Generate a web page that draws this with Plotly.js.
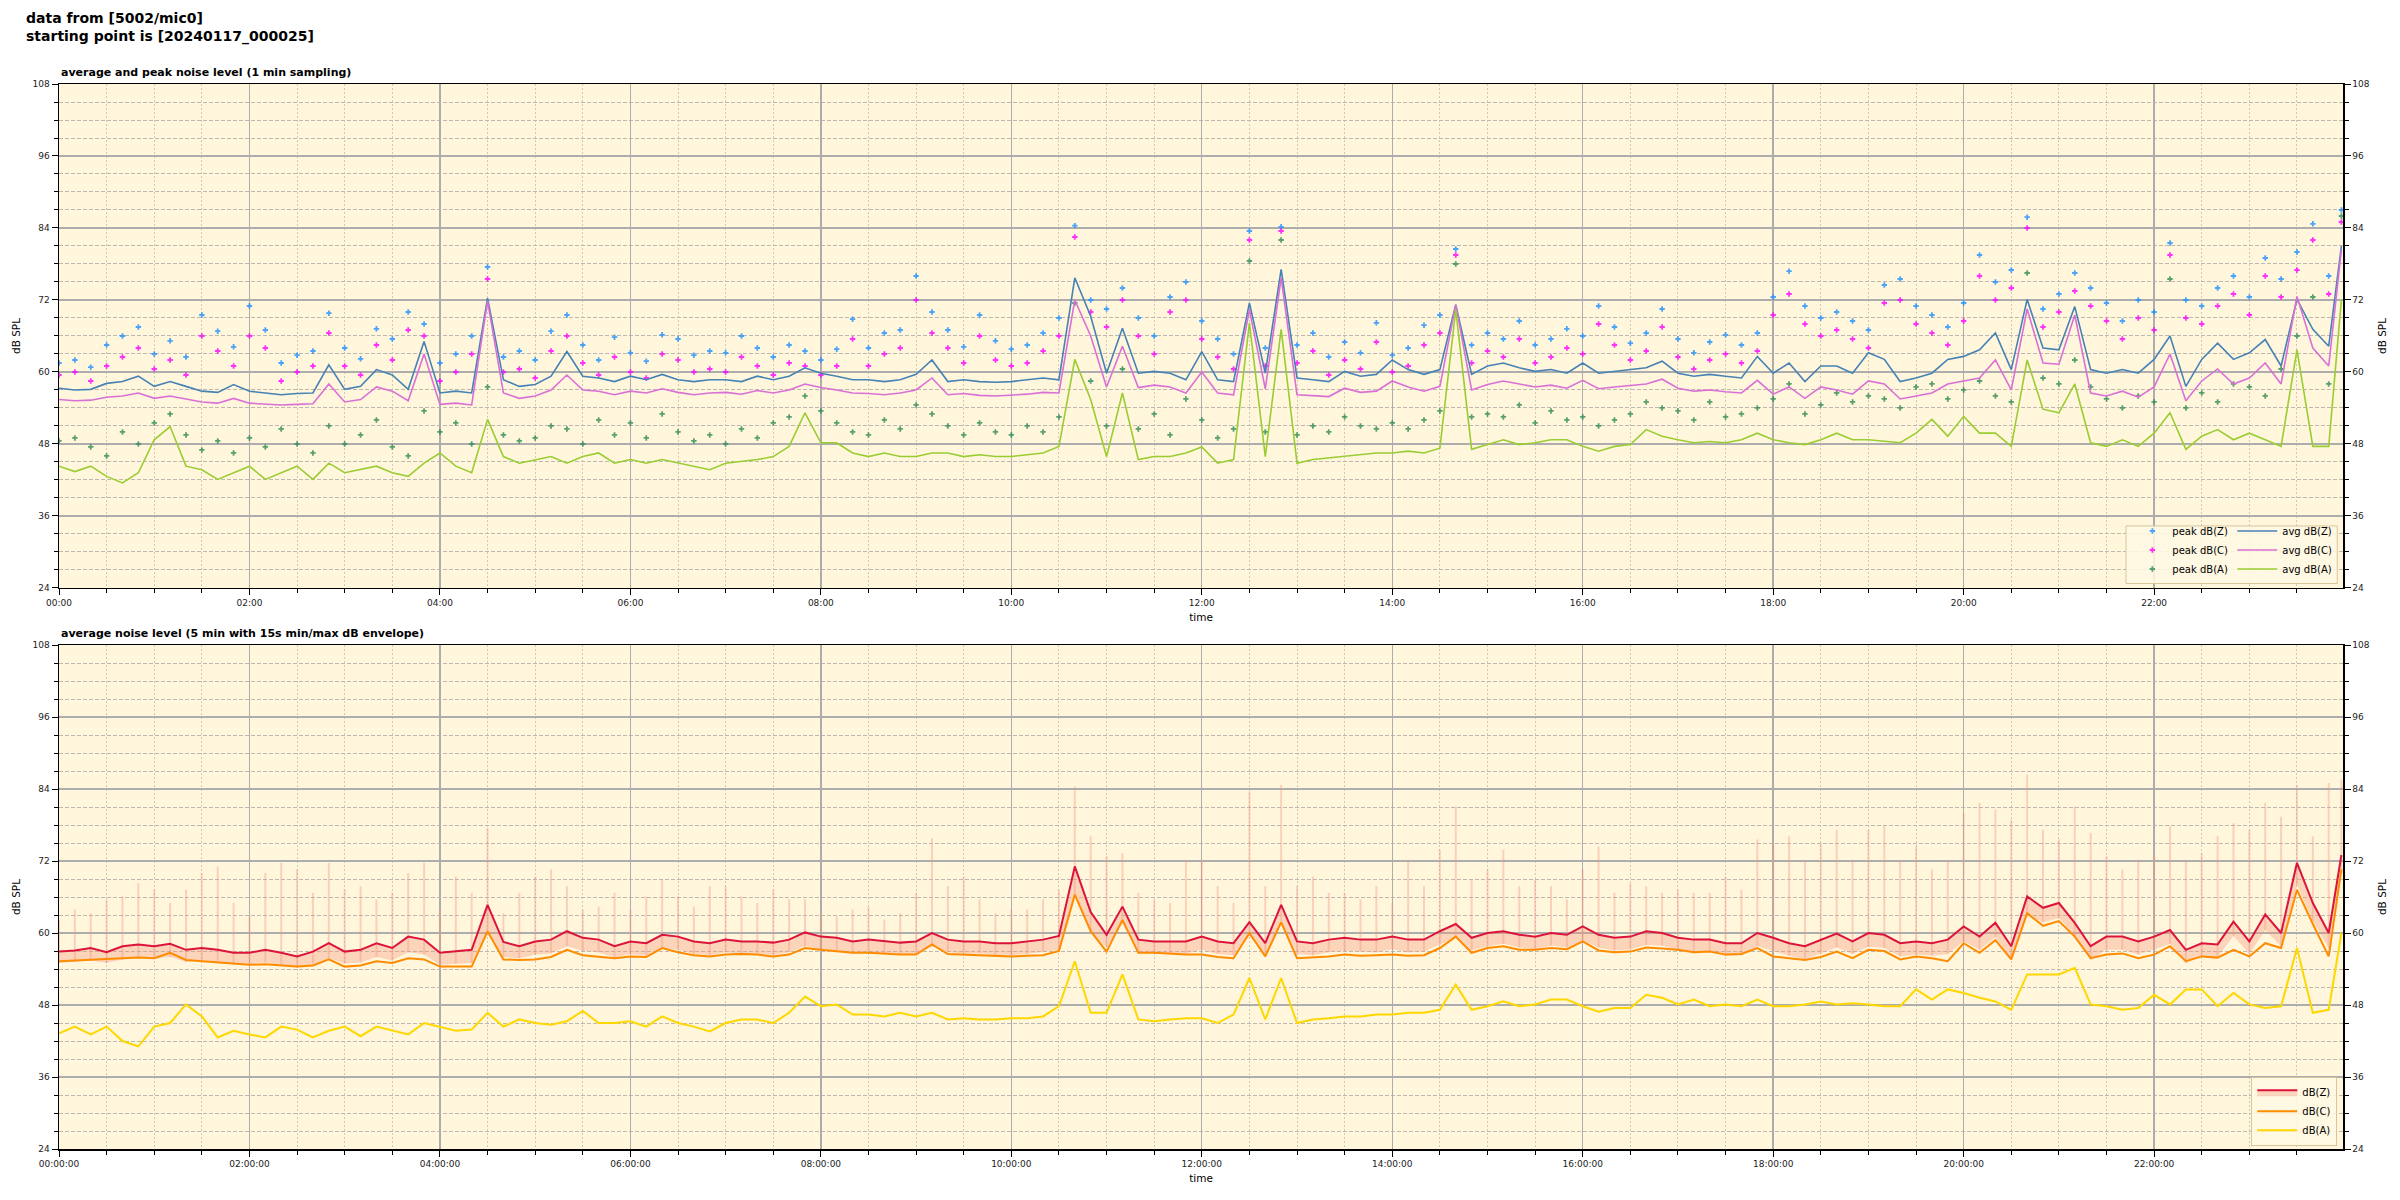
<!DOCTYPE html>
<html><head><meta charset="utf-8">
<script src="https://cdn.plot.ly/plotly-3.0.1.min.js"></script>
<style>html,body{margin:0;padding:0;background:#fff;}#chart{width:2400px;height:1200px;}</style>
</head><body><div id="chart"></div>
<script>
const day = "2024-01-17 ";
const times = [
"00:00","00:10","00:20","00:30","00:40","00:50","01:00","01:10","01:20","01:30","01:40","01:50",
"02:00","02:10","02:20","02:30","02:40","02:50","03:00","03:10","03:20","03:30","03:40","03:50",
"04:00","04:10","04:20","04:30","04:40","04:50","05:00","05:10","05:20","05:30","05:40","05:50",
"06:00","06:10","06:20","06:30","06:40","06:50","07:00","07:10","07:20","07:30","07:40","07:50",
"08:00","08:10","08:20","08:30","08:40","08:50","09:00","09:10","09:20","09:30","09:40","09:50",
"10:00","10:10","10:20","10:30","10:40","10:50","11:00","11:10","11:20","11:30","11:40","11:50",
"12:00","12:10","12:20","12:30","12:40","12:50","13:00","13:10","13:20","13:30","13:40","13:50",
"14:00","14:10","14:20","14:30","14:40","14:50","15:00","15:10","15:20","15:30","15:40","15:50",
"16:00","16:10","16:20","16:30","16:40","16:50","17:00","17:10","17:20","17:30","17:40","17:50",
"18:00","18:10","18:20","18:30","18:40","18:50","19:00","19:10","19:20","19:30","19:40","19:50",
"20:00","20:10","20:20","20:30","20:40","20:50","21:00","21:10","21:20","21:30","21:40","21:50",
"22:00","22:10","22:20","22:30","22:40","22:50","23:00","23:10","23:20","23:30","23:40","23:50","23:58"];

// ---- top panel: 1 min averages (read every 10 min) ----
const avgZ = [
57.3,57.0,57.1,58.1,58.4,59.3, 57.6,58.4,57.6,56.8,56.6,57.9,
56.8,56.5,56.2,56.4,56.5,61.2, 57.1,57.6,60.4,59.5,57.1,65.1,
56.5,56.8,56.5,72.3,58.7,57.6, 57.9,59.3,63.4,59.3,59.0,58.4,
59.3,58.7,59.6,58.7,58.4,58.7, 58.7,58.4,59.3,58.7,59.3,60.7,
59.8,59.3,58.7,58.7,58.4,58.7, 59.6,62.0,58.4,58.7,58.4,58.3,
58.4,58.7,59.0,58.7,75.7,69.3, 59.8,67.3,59.8,60.1,59.8,58.7,
63.4,58.7,58.4,71.5,59.8,77.1, 59.0,58.7,58.4,60.1,59.3,59.6,
62.0,60.4,59.6,60.4,71.2,59.6, 61.0,61.5,60.7,60.1,60.4,59.8,
61.5,59.8,60.1,60.4,60.7,61.8, 59.8,59.3,59.6,59.3,59.0,62.6,
59.8,61.5,58.4,61.0,61.0,59.8, 63.2,62.1,58.4,59.0,59.8,62.1,
62.6,63.7,66.5,60.4,72.1,64.0, 63.7,70.9,60.4,59.8,60.4,59.8,
62.1,66.0,57.6,62.1,64.8,62.1, 63.2,65.4,61.0,72.1,67.1,64.3,81.0];
const avgC = [
55.4,55.2,55.3,55.8,56.0,56.5, 55.6,56.0,55.5,55.0,54.8,55.6,
54.8,54.6,54.5,54.6,54.7,58.0, 55.0,55.4,57.5,56.8,55.2,63.0,
54.6,54.8,54.5,71.8,56.5,55.6, 56.0,57.0,59.5,57.0,56.8,56.2,
56.8,56.5,57.2,56.6,56.2,56.5, 56.6,56.3,56.9,56.5,57.0,58.0,
57.4,57.0,56.5,56.4,56.2,56.5, 57.0,59.0,56.2,56.4,56.1,56.0,
56.1,56.3,56.6,56.5,72.0,66.0, 57.5,64.3,57.4,57.8,57.5,56.5,
60.0,56.5,56.2,70.4,57.2,75.7, 56.2,56.0,55.9,57.3,56.6,56.8,
58.5,57.5,56.8,57.6,71.2,57.0, 57.9,58.5,58.0,57.5,57.8,57.3,
58.6,57.2,57.5,57.8,58.0,58.8, 57.3,56.8,57.0,56.7,56.5,58.6,
56.3,57.5,55.6,57.5,57.0,56.3, 58.5,58.0,55.5,56.0,56.5,58.0,
58.5,59.0,62.0,57.0,70.5,61.5, 61.3,69.5,56.5,56.0,56.8,55.8,
57.5,63.0,55.2,58.5,60.5,58.0, 59.0,61.5,58.0,72.6,64.0,61.0,80.4];
const avgA = [
44.3,43.4,44.3,42.6,41.5,43.2, 48.7,50.9,44.3,43.7,42.1,43.2,
44.3,42.1,43.2,44.3,42.1,44.8, 43.2,43.7,44.3,43.2,42.6,44.8,
46.5,44.3,43.2,52.1,45.9,44.8, 45.4,45.9,44.8,45.9,46.5,44.8,
45.4,44.8,45.4,44.8,44.3,43.7, 44.8,45.1,45.4,45.9,47.6,53.2,
48.2,48.2,46.5,45.9,46.5,45.9, 45.9,46.5,46.5,45.9,46.2,45.9,
45.9,46.2,46.5,47.6,62.1,55.4, 45.9,56.5,45.4,45.9,45.9,46.5,
47.5,44.8,45.4,68.2,45.9,67.1, 44.8,45.4,45.7,45.9,46.2,46.5,
46.5,46.8,46.5,47.3,70.4,47.1, 47.9,48.7,47.9,48.2,48.7,48.7,
47.6,46.8,47.6,47.9,50.4,49.3, 48.7,48.2,48.4,48.2,48.7,49.8,
48.7,48.2,47.9,48.7,49.8,48.7, 48.7,48.4,48.2,49.8,52.1,49.3,
52.6,49.8,49.8,47.6,62.0,53.8, 53.2,58.0,48.2,47.6,48.7,47.6,
49.8,53.2,47.1,49.3,50.4,48.7, 49.8,48.7,47.6,63.7,47.6,47.6,72.1];
const peakZ = [
61.5,62.0,60.8,64.5,66.0,67.5, 63.0,65.2,62.5,69.5,66.8,64.2,
71.0,67.0,61.5,62.8,63.5,69.8, 64.0,62.2,67.2,65.5,70.0,68.0,
61.5,63.0,66.0,77.5,62.5,63.5, 62.0,66.8,69.5,64.5,62.0,65.8,
63.2,61.8,66.2,65.5,62.8,63.5, 63.2,66.0,64.0,62.5,64.5,63.5,
62.0,63.8,68.8,64.0,66.5,67.0, 76.0,70.0,67.0,64.2,69.5,65.2,
63.8,64.5,66.5,69.0,84.4,72.0, 70.5,74.0,69.0,66.0,72.5,75.0,
68.5,65.5,63.0,83.5,64.0,84.2, 64.5,66.5,62.5,65.0,63.2,68.2,
62.8,64.0,67.8,69.5,80.5,64.5, 66.5,65.5,68.5,64.5,65.5,67.2,
66.0,71.0,67.5,64.8,66.5,70.5, 65.5,63.2,65.0,66.2,64.5,66.5,
72.5,76.8,71.0,69.0,70.0,68.5, 67.0,74.5,75.5,71.0,69.5,67.5,
71.5,79.5,75.0,77.0,85.8,70.5, 73.0,76.5,74.0,71.5,68.5,72.0,
70.0,81.5,72.0,71.0,74.0,76.0, 72.5,79.0,75.5,80.0,84.7,76.0,87.0];
const peakC = [
59.5,60.0,58.5,61.0,62.5,64.0, 60.5,62.0,59.5,66.0,63.5,61.0,
66.0,64.0,58.5,60.0,61.0,66.5, 61.0,59.5,64.5,62.0,67.0,66.0,
58.5,60.0,63.0,75.5,60.0,60.5, 59.0,63.5,66.0,61.5,59.5,62.5,
60.0,59.0,63.0,62.0,60.0,60.5, 60.0,62.5,61.0,59.5,61.5,61.0,
59.5,61.0,65.5,61.0,63.0,64.0, 72.0,66.5,64.0,61.5,66.0,62.0,
61.0,61.5,63.5,66.0,82.5,70.0, 67.5,72.0,66.0,63.0,70.0,72.0,
65.5,62.5,60.5,82.0,61.0,83.5, 61.5,63.5,59.5,62.0,60.5,65.0,
60.0,61.0,64.5,66.5,79.5,61.5, 63.5,62.5,65.5,61.5,62.5,64.0,
63.0,68.0,64.5,62.0,63.5,67.5, 62.5,60.5,62.0,63.0,61.5,63.5,
69.5,73.0,68.0,66.0,67.0,65.5, 64.0,71.5,72.0,68.0,66.5,64.5,
68.5,76.0,72.0,74.0,84.0,67.5, 70.0,73.5,71.0,68.5,65.5,69.0,
67.0,79.5,69.0,68.0,71.0,73.0, 69.5,76.0,72.5,77.0,82.0,73.0,85.0];
const peakA = [
48.5,49.0,47.5,46.0,50.0,48.0, 51.5,53.0,49.5,47.0,48.5,46.5,
49.0,47.5,50.5,48.0,46.5,51.0, 48.0,49.5,52.0,47.5,46.0,53.5,
50.0,51.5,48.0,57.5,49.5,48.5, 49.0,51.0,50.5,48.0,52.0,49.5,
51.5,49.0,53.0,50.0,48.5,49.5, 48.0,50.5,49.0,51.5,52.5,56.0,
53.5,51.5,50.0,49.5,52.0,50.5, 54.5,53.0,51.0,49.5,51.5,50.0,
49.5,51.0,50.0,52.5,71.5,58.5, 51.0,60.5,50.5,53.0,49.5,55.5,
52.0,49.0,50.5,78.5,50.0,82.0, 49.5,51.0,50.0,52.5,51.0,50.5,
51.5,50.5,52.0,53.5,78.0,52.5, 53.0,52.5,54.5,51.5,53.5,52.0,
52.5,51.0,52.0,53.0,55.0,54.0, 53.5,52.0,55.0,52.5,53.0,54.0,
55.5,58.0,53.0,54.5,56.5,55.0, 56.0,55.5,54.0,57.5,58.0,55.5,
57.0,58.5,56.0,55.0,76.5,59.0, 58.0,62.0,57.5,55.5,54.0,56.0,
55.0,75.5,54.0,56.5,55.0,58.0, 57.5,56.0,60.5,66.0,72.5,58.0,86.0];

// ---- bottom panel: 5 min averages (read every 10 min) + 15 s min/max envelope ----
const lvlZ = [
56.9,57.1,57.5,56.8,57.8,58.1, 57.8,58.2,57.2,57.5,57.2,56.7,
56.7,57.2,56.7,56.1,56.9,58.3, 56.9,57.2,58.3,57.5,59.4,58.9,
56.7,56.9,57.2,64.7,58.5,57.8, 58.6,58.9,60.3,59.2,58.9,57.8,
58.6,58.3,59.7,59.4,58.6,58.3, 58.9,58.6,58.6,58.4,58.9,60.1,
59.4,59.2,58.6,58.9,58.6,58.4, 58.6,60.0,58.9,58.6,58.6,58.3,
58.3,58.6,58.9,59.5,71.1,63.5, 59.7,64.4,58.9,58.6,58.6,58.6,
59.4,58.6,58.3,61.8,58.3,64.7, 58.6,58.3,58.9,59.2,58.9,58.9,
59.4,58.9,58.9,60.3,61.5,59.2, 60.0,60.3,59.7,59.4,60.0,59.7,
61.1,59.7,59.2,59.4,60.3,60.0, 59.2,58.9,58.9,58.3,58.3,60.0,
59.2,58.3,57.8,58.9,59.9,58.6, 60.0,59.7,58.3,58.6,58.3,58.9,
61.1,59.4,61.7,57.8,66.1,64.2, 65.0,61.7,57.8,59.4,59.4,58.6,
59.4,60.5,57.2,58.3,58.1,61.9, 58.6,63.1,60.0,71.7,65.0,60.0,73.0];
const lvlC = [
55.3,55.4,55.6,55.6,55.8,55.9, 55.8,56.7,55.5,55.3,55.0,54.9,
54.7,54.8,54.6,54.4,54.6,55.6, 54.4,54.6,55.3,55.0,55.8,55.6,
54.4,54.4,54.4,60.3,55.6,55.5, 55.6,56.0,57.2,56.3,56.1,55.8,
56.1,56.0,57.5,56.8,56.3,56.1, 56.4,56.5,56.4,56.1,56.4,57.5,
57.2,57.0,56.7,56.7,56.5,56.4, 56.4,58.1,56.5,56.4,56.3,56.1,
56.1,56.2,56.3,57.0,66.4,60.3, 56.9,62.2,56.7,56.7,56.5,56.4,
56.4,56.0,55.8,60.0,56.1,61.8, 55.8,55.9,56.1,56.4,56.2,56.3,
56.4,56.2,56.3,57.5,59.4,56.7, 57.5,57.8,57.2,57.2,57.5,57.3,
58.6,57.1,56.8,56.9,57.6,57.4, 57.2,56.8,56.9,56.4,56.5,57.5,
56.1,55.8,55.5,56.0,56.9,55.8, 57.2,57.0,55.6,56.1,55.8,55.3,
58.3,56.7,58.8,55.6,63.3,61.2, 62.0,59.4,55.8,56.4,56.6,55.8,
56.4,57.8,55.3,56.1,55.9,57.2, 56.1,58.3,57.5,67.2,61.5,56.1,70.6];
const lvlA = [
43.3,44.4,43.1,44.4,42.0,41.1, 44.4,45.0,48.1,46.1,42.6,43.7,
43.1,42.6,44.4,43.9,42.6,43.7, 44.4,42.8,44.4,43.7,43.1,45.0,
44.4,43.7,43.9,46.7,44.4,45.6, 45.0,44.7,45.3,47.0,45.0,45.0,
45.3,44.4,46.1,45.0,44.4,43.6, 45.0,45.6,45.6,45.0,46.7,49.4,
47.8,48.1,46.4,46.4,46.1,46.7, 46.1,46.7,45.6,45.8,45.6,45.6,
45.8,45.8,46.1,47.8,55.3,46.7, 46.7,53.1,45.6,45.3,45.6,45.8,
45.8,45.0,46.4,52.5,45.6,52.5, 45.0,45.6,45.8,46.1,46.1,46.4,
46.4,46.7,46.7,47.2,51.4,47.2, 47.8,48.6,47.8,48.1,48.9,48.9,
47.8,46.9,47.5,47.5,49.7,49.2, 48.1,48.9,47.8,48.1,47.8,48.9,
47.8,47.8,48.1,48.6,48.1,48.3, 48.1,47.8,47.8,50.6,48.9,50.6,
50.0,49.2,48.6,47.2,53.1,53.1, 53.1,54.2,48.1,47.8,47.2,47.5,
49.7,48.1,50.6,50.6,47.8,50.0, 48.1,47.5,47.8,57.5,46.7,47.2,60.0];
const envMax = [
62.2,63.9,63.3,65.6,66.1,68.3, 67.2,65.0,67.2,70.0,71.1,65.0,
62.8,70.0,71.7,70.6,66.7,71.7, 67.2,67.8,65.6,66.7,70.0,71.7,
63.9,69.4,66.7,77.5,63.3,66.7, 69.4,70.6,67.8,63.9,64.4,66.7,
63.9,66.1,68.9,66.1,64.4,67.8, 67.8,66.1,65.0,67.2,65.6,65.6,
63.3,62.8,63.9,64.4,62.2,63.3, 66.7,75.8,67.8,69.4,65.6,63.3,
63.9,63.9,65.6,67.2,84.4,76.1, 72.8,73.3,66.7,65.6,65.0,72.2,
72.2,67.8,65.0,83.6,67.8,84.7, 67.8,69.4,66.7,66.7,65.6,67.8,
65.0,72.2,67.8,73.9,81.1,68.9, 70.6,73.9,67.8,68.9,67.8,65.6,
70.6,74.4,66.7,68.3,67.8,66.7, 67.2,66.7,66.7,69.4,67.2,75.6,
75.0,76.1,72.2,75.0,77.2,72.2, 77.2,77.8,72.2,74.4,70.6,72.2,
80.0,81.7,80.6,78.9,86.4,77.2, 75.6,81.1,76.7,72.8,70.6,72.2,
72.8,77.8,72.2,73.3,76.1,78.3, 77.2,81.7,79.4,84.7,76.1,85.0,85.6];
const envMin = [
55.0,55.2,55.4,55.0,55.6,55.9, 55.7,56.0,55.2,55.4,55.0,54.8,
54.8,55.1,54.6,54.2,54.8,55.8, 54.9,55.1,56.0,55.4,56.8,56.4,
54.7,54.9,55.0,60.5,56.0,55.8, 56.4,56.6,57.8,57.0,56.8,55.9,
56.5,56.2,57.5,57.2,56.5,56.3, 56.8,56.5,56.6,56.3,56.8,57.8,
57.3,57.1,56.6,56.8,56.5,56.4, 56.5,57.8,56.8,56.5,56.6,56.3,
56.3,56.5,56.8,57.2,66.0,60.0, 57.6,61.5,56.9,56.6,56.5,56.6,
57.2,56.5,56.3,59.5,56.3,62.0, 56.5,56.3,56.8,57.0,56.9,56.8,
57.3,56.8,56.9,58.0,59.2,57.1, 57.8,58.2,57.6,57.3,57.9,57.6,
58.8,57.6,57.1,57.3,58.0,57.9, 57.1,56.8,56.9,56.2,56.3,57.8,
57.0,56.2,55.6,56.6,57.6,56.5, 57.7,57.5,56.1,56.4,56.2,56.5,
58.6,57.2,59.3,55.6,63.0,61.8, 62.5,59.5,55.6,57.2,57.2,56.4,
57.2,58.2,55.0,56.1,56.0,59.5, 56.5,60.5,57.8,68.0,62.0,57.5,70.0];

const yTicks = [24, 36, 48, 60, 72, 84, 96, 108];

const X = times.map(t => day + t);
const FONT = "DejaVu Sans, Liberation Sans, sans-serif";

function peakTrace(y, name, color, rank) {
  return {x: X, y: y, name: name, type: "scatter", mode: "markers", xaxis: "x", yaxis: "y",
    marker: {symbol: "cross", size: 4.5, color: color, opacity: 0.8},
    legend: "legend", legendrank: rank};
}
function avgTrace(y, name, color, rank) {
  return {x: X, y: y, name: name, type: "scatter", mode: "lines", xaxis: "x", yaxis: "y",
    line: {color: color, width: 1.6}, legend: "legend2", legendrank: rank};
}

const traces = [
  peakTrace(peakZ, "peak dB(Z)", "#1E90FF", 1),
  peakTrace(peakC, "peak dB(C)", "#FF00FF", 2),
  peakTrace(peakA, "peak dB(A)", "#2E8B57", 3),
  avgTrace(avgZ, "avg dB(Z)", "#4682B4", 1),
  avgTrace(avgC, "avg dB(C)", "#DA70D6", 2),
  avgTrace(avgA, "avg dB(A)", "#9ACD32", 3),
  {x: [], y: [], xaxis: "x", yaxis: "y3", showlegend: false, type: "scatter", mode: "lines"},
  {x: X, y: envMin, type: "scatter", mode: "lines", xaxis: "x2", yaxis: "y2", showlegend: false,
    line: {width: 0, color: "rgba(0,0,0,0)"}, hoverinfo: "skip",
    error_y: {type: "data", symmetric: false, array: envMax.map((v, i) => v - envMin[i]),
      arrayminus: envMin.map(() => 0), color: "rgba(242,150,125,0.38)", thickness: 2, width: 0}},
  {x: X, y: lvlZ, name: "dB(Z)", type: "scatter", mode: "lines", xaxis: "x2", yaxis: "y2",
    fill: "tonexty", fillcolor: "rgba(245,150,120,0.35)", line: {color: "#DC143C", width: 2}, legend: "legend3", legendrank: 1},
  {x: X, y: lvlC, name: "dB(C)", type: "scatter", mode: "lines", xaxis: "x2", yaxis: "y2",
    line: {color: "#FF8C00", width: 2}, legend: "legend3", legendrank: 2},
  {x: X, y: lvlA, name: "dB(A)", type: "scatter", mode: "lines", xaxis: "x2", yaxis: "y2",
    line: {color: "#FFD700", width: 2}, legend: "legend3", legendrank: 3},
  {x: [], y: [], xaxis: "x2", yaxis: "y4", showlegend: false, type: "scatter", mode: "lines"}
];

const tickFont = {family: FONT, size: 9, color: "#222"};
const titleFont = {family: FONT, size: 10.5, color: "#000"};
const xRange = [day + "00:00:00", day + "23:59:00"];

function xAxis(fmt, anchor) {
  return {type: "date", range: xRange, anchor: anchor, tick0: day + "00:00", dtick: 7200000, tickformat: fmt,
    ticks: "outside", ticklen: 6, tickwidth: 1, tickcolor: "#000", tickfont: tickFont,
    showgrid: true, gridcolor: "#adadad", gridwidth: 1.4, zeroline: false,
    showline: true, linecolor: "#000", linewidth: 1.5, mirror: true,
    minor: {dtick: 1800000, ticks: "outside", ticklen: 4, tickcolor: "#000",
      showgrid: true, gridcolor: "#cfc9b9", griddash: "2px,2px", gridwidth: 1},
    title: {text: "time", font: titleFont, standoff: 6}};
}
function yAxis(domain, anchor) {
  return {range: [24, 108], domain: domain, anchor: anchor, tickmode: "array", tickvals: yTicks,
    ticks: "outside", ticklen: 6, tickcolor: "#000", tickfont: tickFont,
    showgrid: true, gridcolor: "#adadad", gridwidth: 1.4, zeroline: false,
    showline: true, linecolor: "#000", linewidth: 1.5,
    minor: {dtick: 3, tick0: 24, ticks: "outside", ticklen: 4, tickcolor: "#000",
      showgrid: true, gridcolor: "#bdb9b0", griddash: "4px,2px", gridwidth: 1},
    title: {text: "dB SPL", font: titleFont, standoff: 10}};
}
function yRight(overlay, anchor) {
  return {range: [24, 108], overlaying: overlay, anchor: anchor, side: "right", tickmode: "array", tickvals: yTicks,
    ticks: "outside", ticklen: 6, tickcolor: "#000", tickfont: tickFont, showgrid: false, zeroline: false,
    showline: true, linecolor: "#000", linewidth: 1.5,
    minor: {dtick: 3, tick0: 24, ticks: "outside", ticklen: 4, tickcolor: "#000", showgrid: false},
    title: {text: "dB SPL", font: titleFont, standoff: 10}};
}

const topDom = [0.5268, 1];
const botDom = [0, 0.4732];
const legFont = {family: FONT, size: 10, color: "#000"};

const layout = {
  width: 2400, height: 1200,
  margin: {l: 59, r: 57, t: 84, b: 51},
  paper_bgcolor: "#ffffff", plot_bgcolor: "#FFF6DC",
  font: {family: FONT},
  xaxis: xAxis("%H:%M", "y"),
  xaxis2: xAxis("%H:%M:%S", "y2"),
  yaxis: yAxis(topDom, "x"),
  yaxis2: yAxis(botDom, "x2"),
  yaxis3: yRight("y", "x"),
  yaxis4: yRight("y2", "x2"),
  showlegend: true,
  legend: {x: 0.952, xanchor: "right", y: 0.531, yanchor: "bottom", bgcolor: "rgba(0,0,0,0)",
    borderwidth: 0, font: legFont, traceorder: "normal", itemwidth: 30, tracegroupgap: 0},
  legend2: {x: 0.9975, xanchor: "right", y: 0.531, yanchor: "bottom", bgcolor: "rgba(0,0,0,0)",
    borderwidth: 0, font: legFont, traceorder: "normal", itemwidth: 40, tracegroupgap: 0},
  legend3: {x: 0.9975, xanchor: "right", y: 0.003, yanchor: "bottom", bgcolor: "rgba(255,248,228,0.85)",
    bordercolor: "#d9c59b", borderwidth: 1, font: legFont, traceorder: "normal", itemwidth: 40, tracegroupgap: 0},
  shapes: [{type: "rect", xref: "paper", yref: "paper", x0: 0.905, x1: 0.9975, y0: 0.531, y1: 0.585,
    line: {color: "#d9c59b", width: 1}, fillcolor: "rgba(255,248,228,0.85)", layer: "above"}],
  annotations: [
    {text: "<b>data from [5002/mic0]<br>starting point is [20240117_000025]</b>", xref: "paper", yref: "paper",
      x: -0.0153, y: 1.0714, xanchor: "left", yanchor: "top", align: "left", showarrow: false,
      font: {family: FONT, size: 14, color: "#000"}},
    {text: "<b>average and peak noise level (1 min sampling)</b>", xref: "paper", yref: "paper",
      x: 0, y: 1, xanchor: "left", yanchor: "bottom", yshift: 3, showarrow: false,
      font: {family: FONT, size: 11, color: "#000"}},
    {text: "<b>average noise level (5 min with 15s min/max dB envelope)</b>", xref: "paper", yref: "paper",
      x: 0, y: 0.4732, xanchor: "left", yanchor: "bottom", yshift: 3, showarrow: false,
      font: {family: FONT, size: 11, color: "#000"}}
  ]
};

Plotly.newPlot("chart", traces, layout, {displayModeBar: false, staticPlot: true});
</script>
</body></html>
